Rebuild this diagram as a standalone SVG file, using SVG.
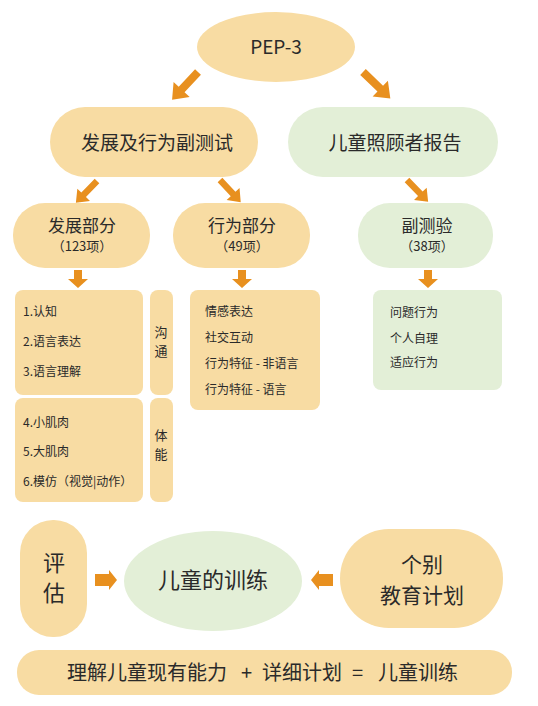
<svg xmlns="http://www.w3.org/2000/svg" width="538" height="706" viewBox="0 0 538 706">
<style>
.o{fill:#f8dca3}
.g{fill:#e3efd7}
.a{fill:#e8901f}
text{font-family:"Noto Sans CJK SC","Noto Sans",sans-serif;fill:#2a2a2a}
.c{text-anchor:middle}
.t19{font-size:19px}
.t17{font-size:17px}
.t13{font-size:13px}
.t12{font-size:12px}
.t14{font-size:13px}
.t22{font-size:22px}
.t21{font-size:21px}
.t20{font-size:20px}
</style>
<defs>
<path id="arrowR" d="M0,-4 H24 V-11 L38,0 L24,11 V4 H0 Z"/>
<path id="arrowD" d="M-4,0 V9 H-10 L0,18 L10,9 H4 V0 Z"/>
<path id="arrowH" d="M0,-6 H14 V-10 L22,0 L14,10 V6 H0 Z"/>
</defs>
<g id="connectors" class="a">
<use href="#arrowR" transform="translate(198,72) rotate(133)"/>
<use href="#arrowR" transform="translate(363,72) rotate(44)"/>
<use href="#arrowR" transform="translate(97,181) rotate(134) scale(0.8)"/>
<use href="#arrowR" transform="translate(220,180) rotate(47) scale(0.8)"/>
<use href="#arrowR" transform="translate(407,180) rotate(46) scale(0.8)"/>
<use href="#arrowD" transform="translate(78,270)"/>
<use href="#arrowD" transform="translate(242,270)"/>
<use href="#arrowD" transform="translate(428,270)"/>
<use href="#arrowH" transform="translate(95,580)"/>
<use href="#arrowH" transform="translate(333,580) scale(-1,1)"/>
</g>
<g id="pep3">
<ellipse class="o" cx="276" cy="47" rx="79" ry="35"/>
<text class="c t19" x="276" y="54">PEP-3</text>
</g>
<g id="dev-behavior-test">
<rect class="o" x="50" y="107" width="208" height="70" rx="35"/>
<text class="c t19" x="157" y="150">发展及行为副测试</text>
</g>
<g id="caregiver-report">
<rect class="g" x="288" y="107" width="210" height="70" rx="35"/>
<text class="c t19" x="395" y="150">儿童照顾者报告</text>
</g>
<g id="dev-part">
<rect class="o" x="13" y="203" width="137" height="65" rx="32"/>
<text class="c t17" x="82" y="232">发展部分</text>
<text class="c t13" x="82" y="251">（123项）</text>
</g>
<g id="behavior-part">
<rect class="o" x="173" y="203" width="137" height="65" rx="32"/>
<text class="c t17" x="242" y="232">行为部分</text>
<text class="c t13" x="242" y="251">（49项）</text>
</g>
<g id="subtest">
<rect class="g" x="358" y="203" width="135" height="65" rx="32"/>
<text class="c t17" x="427" y="232">副测验</text>
<text class="c t13" x="427" y="251">（38项）</text>
</g>
<g id="communication-list">
<rect class="o" x="15" y="290" width="128" height="105" rx="8"/>
<text class="t12" x="23" y="316">1.认知</text>
<text class="t12" x="23" y="346">2.语言表达</text>
<text class="t12" x="23" y="376">3.语言理解</text>
</g>
<g id="communication-tab">
<rect class="o" x="150" y="290" width="23" height="105" rx="8"/>
<text class="c t14" x="161" y="337">沟</text>
<text class="c t14" x="161" y="356">通</text>
</g>
<g id="physical-list">
<rect class="o" x="15" y="398" width="128" height="104" rx="8"/>
<text class="t12" x="23" y="427">4.小肌肉</text>
<text class="t12" x="23" y="456">5.大肌肉</text>
<text class="t12" x="23" y="486">6.模仿（视觉|动作）</text>
</g>
<g id="physical-tab">
<rect class="o" x="150" y="398" width="23" height="104" rx="8"/>
<text class="c t14" x="161" y="440">体</text>
<text class="c t14" x="161" y="459">能</text>
</g>
<g id="behavior-list">
<rect class="o" x="190" y="290" width="130" height="120" rx="8"/>
<text class="t12" x="205" y="316">情感表达</text>
<text class="t12" x="205" y="342">社交互动</text>
<text class="t12" x="205" y="368">行为特征 - 非语言</text>
<text class="t12" x="205" y="394">行为特征 - 语言</text>
</g>
<g id="subtest-list">
<rect class="g" x="373" y="290" width="129" height="100" rx="8"/>
<text class="t12" x="390" y="317">问题行为</text>
<text class="t12" x="390" y="343">个人自理</text>
<text class="t12" x="390" y="367">适应行为</text>
</g>
<g id="assessment">
<rect class="o" x="20" y="520" width="67" height="117" rx="33"/>
<text class="c t22" x="54" y="571">评</text>
<text class="c t22" x="54" y="601">估</text>
</g>
<g id="training">
<ellipse class="g" cx="213" cy="581" rx="89" ry="50"/>
<text class="c t22" x="213" y="588">儿童的训练</text>
</g>
<g id="iep">
<rect class="o" x="340" y="529" width="163" height="99" rx="49"/>
<text class="c t21" x="422" y="572">个别</text>
<text class="c t21" x="422" y="603">教育计划</text>
</g>
<g id="formula">
<rect class="o" x="17" y="650" width="495" height="45" rx="22"/>
<text class="t20" y="680"><tspan x="67">理解儿童现有能力</tspan><tspan x="241">+</tspan><tspan x="262">详细计划</tspan><tspan x="352">=</tspan><tspan x="378">儿童训练</tspan></text>
</g>
</svg>
